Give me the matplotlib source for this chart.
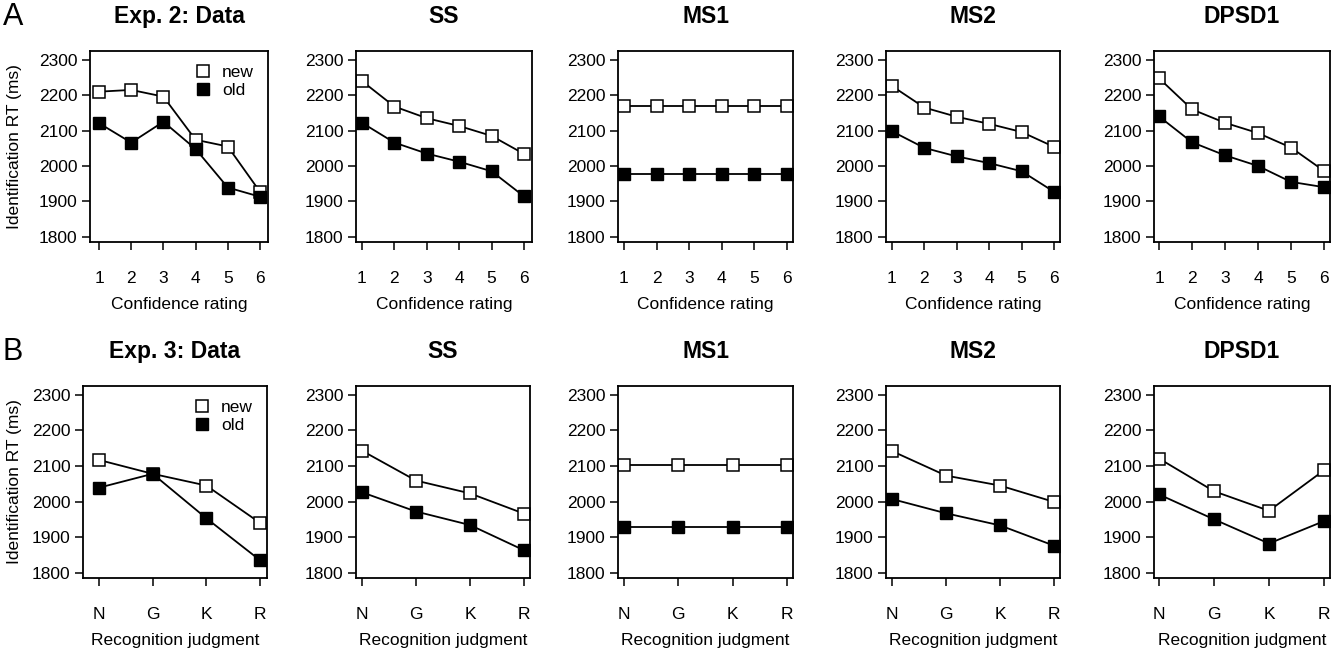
import numpy as np
import matplotlib.pyplot as plt

plt.rcParams['font.family'] = ['Liberation Sans', 'DejaVu Sans']

# --- data (identification RT in ms) ---
conf_labels = ["1", "2", "3", "4", "5", "6"]
judg_labels = ["N", "G", "K", "R"]
panel_titles = ["Data", "SS", "MS1", "MS2", "DPSD1"]

# Exp. 2, confidence rating
exp2_data_new = [2210, 2215, 2196, 2074, 2055, 1927]
exp2_data_old = [2121, 2066, 2125, 2048, 1939, 1913]
exp2_ss_new = [2240, 2168, 2135, 2113, 2085, 2034]
exp2_ss_old = [2122, 2066, 2035, 2012, 1985, 1914]
exp2_ms1_new = [2170, 2170, 2170, 2170, 2170, 2170]
exp2_ms1_old = [1976, 1976, 1976, 1976, 1976, 1976]
exp2_ms2_new = [2226, 2165, 2139, 2119, 2096, 2054]
exp2_ms2_old = [2098, 2051, 2027, 2008, 1985, 1927]
exp2_dpsd1_new = [2248, 2160, 2122, 2093, 2052, 1986]
exp2_dpsd1_old = [2140, 2067, 2030, 2000, 1955, 1940]

# Exp. 3, recognition judgment
exp3_data_new = [2117, 2078, 2045, 1940]
exp3_data_old = [2039, 2078, 1953, 1835]
exp3_ss_new = [2143, 2059, 2023, 1966]
exp3_ss_old = [2026, 1972, 1934, 1863]
exp3_ms1_new = [2104, 2104, 2104, 2104]
exp3_ms1_old = [1928, 1928, 1928, 1928]
exp3_ms2_new = [2142, 2073, 2045, 1999]
exp3_ms2_old = [2007, 1967, 1933, 1876]
exp3_dpsd1_new = [2121, 2029, 1974, 2088]
exp3_dpsd1_old = [2020, 1950, 1882, 1945]

rows = [
    dict(letter="A", exp="Exp. 2: Data", xlab="Confidence rating", ticks=conf_labels,
         series=[(exp2_data_new, exp2_data_old), (exp2_ss_new, exp2_ss_old),
                 (exp2_ms1_new, exp2_ms1_old), (exp2_ms2_new, exp2_ms2_old),
                 (exp2_dpsd1_new, exp2_dpsd1_old)],
         boxes=[(90, 268), (356, 532), (618, 793), (886, 1060), (1154, 1330)],
         ytop=51, ybot=242),
    dict(letter="B", exp="Exp. 3: Data", xlab="Recognition judgment", ticks=judg_labels,
         series=[(exp3_data_new, exp3_data_old), (exp3_ss_new, exp3_ss_old),
                 (exp3_ms1_new, exp3_ms1_old), (exp3_ms2_new, exp3_ms2_old),
                 (exp3_dpsd1_new, exp3_dpsd1_old)],
         boxes=[(83, 267), (356, 530), (618, 793), (886, 1060), (1154, 1330)],
         ytop=386, ybot=578),
]

# pixel positions of first / last x tick in each column
first_tick = [99, 362, 624, 892, 1159]
last_tick = [260, 524, 787, 1054, 1324]

W, H = 1341, 649
fig = plt.figure(figsize=(W / 100, H / 100), dpi=100)

for row in rows:
    n = len(row["ticks"])
    x = np.arange(1, n + 1)
    for j, (left, right) in enumerate(row["boxes"]):
        ax = fig.add_axes([left / W, 1 - row["ybot"] / H,
                           (right - left) / W, (row["ybot"] - row["ytop"]) / H])
        new, old = row["series"][j]
        # points are clipped to the plot box, as in R
        ax.plot(x, new, color="black", lw=1.3, marker="s", ms=9,
                mfc="white", mec="black", mew=1.1, label="new", zorder=3)
        ax.plot(x, old, color="black", lw=1.3, marker="s", ms=9,
                mfc="black", mec="black", label="old", zorder=3)

        sp = (last_tick[j] - first_tick[j]) / (n - 1)
        ax.set_xlim(1 - (first_tick[j] - left) / sp, n + (right - last_tick[j]) / sp)
        ax.set_ylim(1785, 2325)
        ax.set_xticks(x)
        ax.set_xticklabels(row["ticks"])
        ax.set_yticks([1800, 1900, 2000, 2100, 2200, 2300])
        ax.tick_params(axis="both", direction="out", length=6, width=1.1,
                       labelsize=12.5, colors="black")
        ax.tick_params(axis="x", pad=15)
        ax.tick_params(axis="y", pad=3)
        for s in ax.spines.values():
            s.set_linewidth(1.3)
            s.set_zorder(4)

        ax.set_xlabel(row["xlab"], fontsize=12.5, labelpad=8)
        title = row["exp"] if j == 0 else panel_titles[j]
        ax.annotate(title, xy=(0.5, 1), xycoords="axes fraction",
                    xytext=(0, 24.5), textcoords="offset points",
                    ha="center", va="center", fontsize=16.5, fontweight="bold")
        if j == 0:
            ax.legend(loc="upper right", frameon=False, fontsize=12.5,
                      handlelength=0.8, handletextpad=0.7, labelspacing=0.15,
                      borderaxespad=0.4)
            for h in ax.get_legend().get_lines():
                h.set_linestyle("none")
            fig.text(15 / W, 1 - (row["ytop"] + row["ybot"]) / 2 / H,
                     "Identification RT (ms)", rotation=90,
                     ha="center", va="center", fontsize=12.5)
    fig.text(13 / W, 1 - (row["ytop"] - 34) / H, row["letter"],
             ha="center", va="center", fontsize=22)

fig.savefig("out.png", dpi=100)
